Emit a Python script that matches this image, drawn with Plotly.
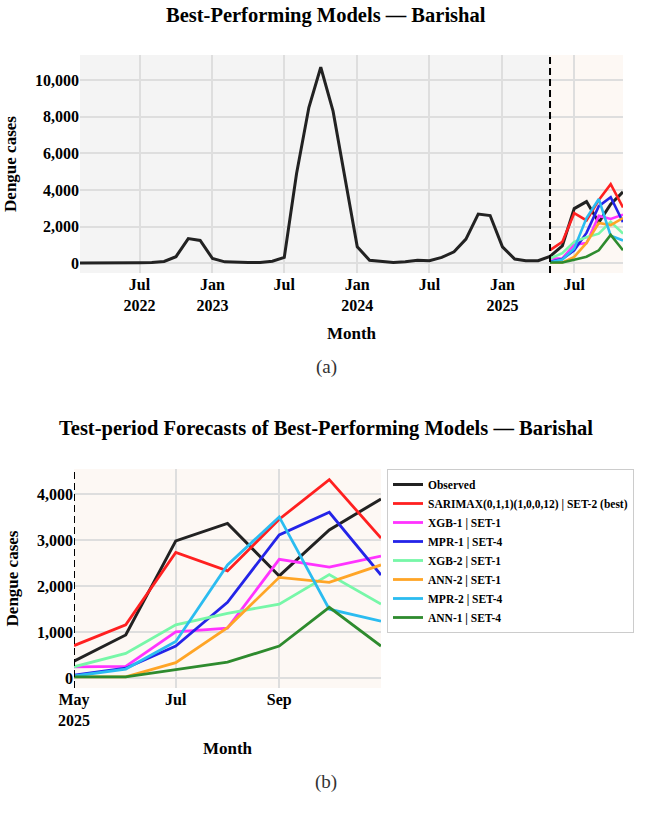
import pandas as pd
import plotly.graph_objects as go

# ---------------- data ----------------
all_months = pd.date_range("2022-02-01", "2025-11-01", freq="MS")
observed = [10, 5, 5, 10, 15, 20, 30, 90, 350, 1340, 1240,            # 2022 Feb-Dec
            250, 70, 40, 30, 40, 100, 310, 4900, 8500, 10700, 8300, 4600,  # 2023
            890, 160, 90, 40, 80, 160, 130, 310, 620, 1310, 2680, 2600,    # 2024
            890, 220, 130, 130, 370, 940, 2980, 3360, 2220, 3220, 3890]    # 2025 Jan-Nov

test_months = pd.date_range("2025-05-01", "2025-11-01", freq="MS")
model_names = ["SARIMAX(0,1,1)(1,0,0,12) | SET-2 (best)", "XGB-1 | SET-1", "MPR-1 | SET-4",
               "XGB-2 | SET-1", "ANN-2 | SET-1", "MPR-2 | SET-4", "ANN-1 | SET-4"]
sarimax = [710, 1160, 2730, 2330, 3450, 4310, 3040]
xgb1 = [250, 260, 1010, 1090, 2580, 2410, 2650]
mpr1 = [70, 220, 700, 1650, 3110, 3600, 2240]
xgb2 = [250, 540, 1160, 1410, 1610, 2250, 1610]
ann2 = [30, 30, 340, 1100, 2190, 2080, 2460]
mpr2 = [50, 200, 800, 2460, 3500, 1500, 1240]
ann1 = [30, 30, 190, 350, 700, 1540, 700]
model_values = [sarimax, xgb1, mpr1, xgb2, ann2, mpr2, ann1]

top_tickvals = ["2022-07-01", "2023-01-01", "2023-07-01", "2024-01-01", "2024-07-01", "2025-01-01", "2025-07-01"]
top_ticktext = ["Jul<br>2022", "Jan<br>2023", "Jul", "Jan<br>2024", "Jul", "Jan<br>2025", "Jul"]
bot_tickvals = ["2025-05-01", "2025-07-01", "2025-09-01"]
bot_ticktext = ["May<br>2025", "Jul", "Sep"]

# ---------------- style ----------------
obs_color = "#222222"
model_colors = ["#ff2020", "#ff33ff", "#2424e8", "#77f7a8", "#ffa526", "#2bbcf0", "#2e8b2e"]
FONT = "Liberation Serif"
W, H = 652, 816
test_start = "2025-05-01"

def px_x(x):
    return x / W

def px_y(y):
    return 1 - y / H

fig = go.Figure()

# top chart
test_idx = list(all_months).index(pd.Timestamp(test_start))
fig.add_trace(go.Scatter(x=all_months, y=observed, mode="lines", line=dict(color=obs_color, width=3),
                         showlegend=False, xaxis="x", yaxis="y"))
for name, vals, col in zip(model_names, model_values, model_colors):
    fig.add_trace(go.Scatter(x=test_months, y=vals, mode="lines", line=dict(color=col, width=2.6),
                             showlegend=False, xaxis="x", yaxis="y"))

# bottom chart
obs_test = observed[test_idx:]
fig.add_trace(go.Scatter(x=test_months, y=obs_test, mode="lines", name="Observed",
                         line=dict(color=obs_color, width=3), xaxis="x2", yaxis="y2"))
for name, vals, col in zip(model_names, model_values, model_colors):
    fig.add_trace(go.Scatter(x=test_months, y=vals, mode="lines", name=name,
                             line=dict(color=col, width=2.8), xaxis="x2", yaxis="y2"))

tickfont = dict(family=FONT, size=16, color="black", weight="bold")
titlefont = dict(family=FONT, size=17, color="black", weight="bold")
grid = dict(showgrid=True, gridcolor="#dedede", gridwidth=1.5, zeroline=False, showline=False,
            automargin=False, ticks="", tickfont=tickfont)

fig.update_layout(
    width=W, height=H,
    margin=dict(l=0, r=0, t=0, b=0),
    paper_bgcolor="white",
    plot_bgcolor="#fdf8f4",
    template="none",
    xaxis=dict(domain=[px_x(80), px_x(623)], anchor="y", type="date",
               range=["2022-02-01", "2025-11-01"], tickvals=top_tickvals, ticktext=top_ticktext,
               title=dict(text="Month", font=titlefont, standoff=14), **grid),
    yaxis=dict(domain=[px_y(273), px_y(55)], anchor="x", range=[-540, 11370],
               tickvals=[0, 2000, 4000, 6000, 8000, 10000], tickformat=",d",
               title=dict(text="Dengue cases", font=titlefont, standoff=14), **grid),
    xaxis2=dict(domain=[px_x(74), px_x(381)], anchor="y2", type="date",
                range=["2025-05-01", "2025-11-01"], tickvals=bot_tickvals, ticktext=bot_ticktext,
                title=dict(text="Month", font=titlefont, standoff=14), **grid),
    yaxis2=dict(domain=[px_y(688), px_y(469)], anchor="x2", range=[-210, 4540],
                tickvals=[0, 1000, 2000, 3000, 4000], tickformat=",d",
                title=dict(text="Dengue cases", font=titlefont, standoff=14), **grid),
    legend=dict(x=px_x(387), y=px_y(469), xanchor="left", yanchor="top",
                bgcolor="white", bordercolor="#cccccc", borderwidth=1,
                font=dict(family=FONT, size=11.5, color="black", weight="bold"),
                tracegroupgap=0, itemwidth=30),
    showlegend=True,
)

# train-period background (grey) in top chart
fig.add_shape(type="rect", xref="x", yref="y domain", x0="2022-02-01", x1=test_start, y0=0, y1=1,
              fillcolor="#f4f4f4", line=dict(width=0), layer="below")
# test start dashed lines
fig.add_shape(type="line", xref="x", yref="y domain", x0=test_start, x1=test_start, y0=0, y1=1,
              line=dict(color="black", width=2, dash="7px,4px"))
fig.add_shape(type="line", xref="x2", yref="y2 domain", x0=test_start, x1=test_start, y0=0, y1=1,
              line=dict(color="black", width=2, dash="7px,4px"))

# titles and panel labels
fig.add_annotation(text="Best-Performing Models — Barishal", xref="paper", yref="paper",
                   x=0.5, y=px_y(15), xanchor="center", yanchor="middle", showarrow=False,
                   font=dict(family=FONT, size=20.5, color="black", weight="bold"))
fig.add_annotation(text="Test-period Forecasts of Best-Performing Models — Barishal", xref="paper", yref="paper",
                   x=0.5, y=px_y(428), xanchor="center", yanchor="middle", showarrow=False,
                   font=dict(family=FONT, size=20.5, color="black", weight="bold"))
fig.add_annotation(text="(a)", xref="paper", yref="paper", x=px_x(326), y=px_y(367),
                   xanchor="center", yanchor="middle", showarrow=False,
                   font=dict(family=FONT, size=19, color="#333333"))
fig.add_annotation(text="(b)", xref="paper", yref="paper", x=px_x(326), y=px_y(782),
                   xanchor="center", yanchor="middle", showarrow=False,
                   font=dict(family=FONT, size=19, color="#333333"))

fig.write_html("out.html")
